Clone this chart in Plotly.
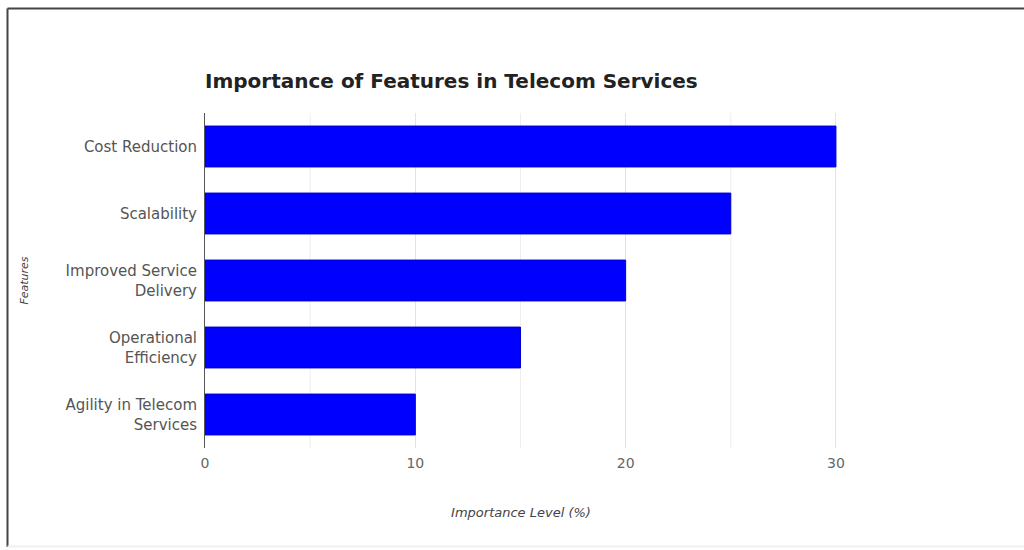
import plotly.graph_objects as go

features = ["Cost Reduction", "Scalability", "Improved Service<br>Delivery",
            "Operational<br>Efficiency", "Agility in Telecom<br>Services"]
importance = [30, 25, 20, 15, 10]
x_ticks = [0, 10, 20, 30]

W, H = 1024, 550
L, R, T, B = 205, 187, 113, 102
pw, ph = W - L - R, H - T - B

def px(x):
    return (x - L) / pw

def py(y):
    return (H - B - y) / ph

fig = go.Figure(go.Bar(
    x=importance, y=features, orientation="h",
    marker=dict(color="#0000FF", line=dict(color="#0000CC", width=1)),
    width=0.61,
))

fig.update_layout(
    width=W, height=H,
    margin=dict(l=L, r=R, t=T, b=B),
    paper_bgcolor="white", plot_bgcolor="white",
    showlegend=False,
    title=dict(text="<b>Importance of Features in Telecom Services</b>",
               x=0, xref="paper", xanchor="left",
               y=1 - 81 / H, yref="container", yanchor="middle",
               font=dict(family="DejaVu Sans", size=20, color="#222222")),
    font=dict(family="DejaVu Sans", color="#555555"),
    xaxis=dict(range=[0, 30.05], tickvals=x_ticks,
               showgrid=True, gridcolor="#E3E3E3", gridwidth=1,
               zeroline=False, showline=False,
               ticklabelstandoff=5,
               tickfont=dict(size=14, color="#666666"),
               title=dict(text="<i>Importance Level (%)</i>",
                          font=dict(size=13, color="#444444"), standoff=37)),
    yaxis=dict(categoryorder="array", categoryarray=features[::-1],
               showgrid=False, zeroline=False,
               showline=True, linecolor="#555555", linewidth=1,
               tickfont=dict(size=15, color="#555555"),
               ticks="", ticklabelstandoff=4,
               title=dict(text="<i>Features</i>",
                          font=dict(size=11, color="#444444"), standoff=34)),
)

# minor gridlines at 5s
for v in [5, 15, 25]:
    fig.add_shape(type="line", xref="x", yref="paper", x0=v, x1=v, y0=0, y1=1,
                  line=dict(color="#EEEEEE", width=1), layer="below")

# frame of the screenshot
fig.add_shape(type="line", xref="paper", yref="paper",
              x0=px(7.5), x1=px(1030), y0=py(8.5), y1=py(8.5),
              line=dict(color="#444444", width=2))
fig.add_shape(type="line", xref="paper", yref="paper",
              x0=px(7.5), x1=px(7.5), y0=py(8.5), y1=py(547),
              line=dict(color="#444444", width=2))
fig.add_shape(type="line", xref="paper", yref="paper",
              x0=px(7.5), x1=px(1030), y0=py(546.5), y1=py(546.5),
              line=dict(color="#F0F0F0", width=2))

fig.write_html("out.html")
